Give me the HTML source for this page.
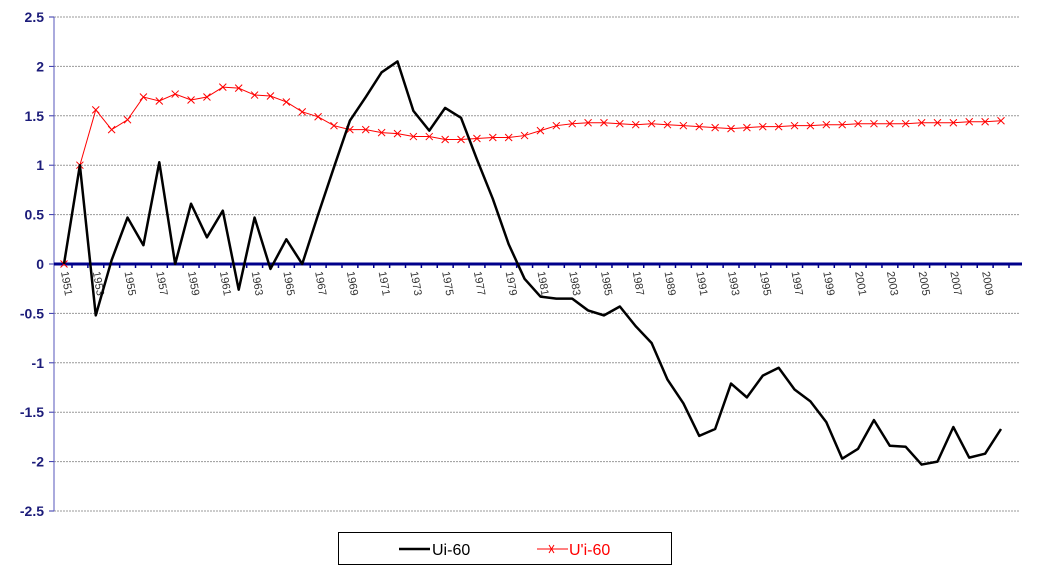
<!DOCTYPE html>
<html><head><meta charset="utf-8"><style>
body{margin:0;background:#fff;}
svg{display:block;font-family:"Liberation Sans",Arial,sans-serif;}
</style></head><body>
<svg id="chart" width="1038" height="576" viewBox="0 0 1038 576" xmlns="http://www.w3.org/2000/svg">
<g id="grid"></g>
<g id="yaxis"></g>
<g id="xaxis"></g>
<g id="series"></g>
<g>
<rect x="338.5" y="532.5" width="333" height="32" fill="#fff" stroke="#000" stroke-width="1"/>
<g>
<line x1="399" y1="549" x2="430" y2="549" stroke="#000" stroke-width="2.5"/>
<text x="432" y="555" font-size="16" fill="#000">Ui-60</text></g>
<g>
<line x1="537" y1="549" x2="568" y2="549" stroke="#f00" stroke-width="1"/>
<path d="M549,545 l5,8 M554,545 l-5,8" stroke="#f00" stroke-width="1"/>
<text x="569" y="555" font-size="16" fill="#f00">U'i-60</text></g>
</g>
</svg>
<script>
const years = [];
for (let y = 1951; y <= 2010; y++) years.push(y);
const uiValues = [0,1.0,-0.52,0.04,0.47,0.19,1.03,0.0,0.61,0.27,0.54,-0.26,0.47,-0.05,0.25,0.0,0.5,0.98,1.45,1.69,1.94,2.05,1.55,1.35,1.58,1.48,1.06,0.66,0.2,-0.15,-0.33,-0.35,-0.35,-0.47,-0.52,-0.43,-0.63,-0.8,-1.17,-1.41,-1.74,-1.67,-1.21,-1.35,-1.13,-1.05,-1.27,-1.39,-1.6,-1.97,-1.87,-1.58,-1.84,-1.85,-2.03,-2.0,-1.65,-1.96,-1.92,-1.67];
const uiPrimeValues = [0,1.0,1.56,1.36,1.46,1.69,1.65,1.72,1.66,1.69,1.79,1.78,1.71,1.70,1.64,1.54,1.49,1.40,1.36,1.36,1.33,1.32,1.29,1.29,1.26,1.26,1.27,1.28,1.28,1.30,1.35,1.40,1.42,1.43,1.43,1.42,1.41,1.42,1.41,1.40,1.39,1.38,1.37,1.38,1.39,1.39,1.40,1.40,1.41,1.41,1.42,1.42,1.42,1.42,1.43,1.43,1.43,1.44,1.44,1.45];
const yTicks = [2.5,2,1.5,1,0.5,0,-0.5,-1,-1.5,-2,-2.5];
const yTickLabels = ["2.5","2","1.5","1","0.5","0","-0.5","-1","-1.5","-2","-2.5"];

const NS = "http://www.w3.org/2000/svg";
const X0 = 64, X1 = 1001, PL = 54, PR = 1020;
const yScale = v => 264 - v * 98.8;
const xScale = i => X0 + i * (X1 - X0) / (years.length - 1);
function mk(tag, attrs, parent) {
  const e = document.createElementNS(NS, tag);
  for (const k in attrs) e.setAttribute(k, attrs[k]);
  parent.appendChild(e); return e;
}
const grid = document.getElementById('grid');
const yaxis = document.getElementById('yaxis');
const xaxis = document.getElementById('xaxis');
const series = document.getElementById('series');

yTicks.forEach((v, i) => {
  const y = yScale(v);
  if (v !== 0) {
    const g = mk('line', {x1: PL, x2: PR, y1: y, y2: y, stroke: '#999', 'stroke-width': 1, 'stroke-dasharray': '2,1'}, grid);
    
    
  }
  mk('line', {x1: PL - 5, x2: PL, y1: y, y2: y, stroke: '#3333aa', 'stroke-width': 1}, yaxis);
  const t = mk('text', {x: 44, y: y + 5, 'text-anchor': 'end', 'font-size': 14, 'font-weight': 'bold', fill: '#1c1c7a'}, yaxis);
  t.textContent = yTickLabels[i];
  
  
});
const ya = mk('line', {x1: PL, x2: PL, y1: yScale(2.5), y2: yScale(-2.5), stroke: '#5555bb', 'stroke-width': 1}, yaxis);



const za = mk('line', {x1: PL, x2: PR + 2, y1: yScale(0), y2: yScale(0), stroke: '#00008b', 'stroke-width': 3}, xaxis);


years.forEach((yr, i) => {
  const x = xScale(i) + 8;
  mk('line', {x1: x, x2: x, y1: yScale(0), y2: yScale(0) + 4, stroke: '#00008b', 'stroke-width': 1.5}, xaxis);
  if (yr % 2 === 1) {
    const t = mk('text', {x: 0, y: 0, 'font-size': 11, fill: '#333', transform: `translate(${xScale(i) - 3},${yScale(0) + 8}) rotate(80)`}, xaxis);
    t.textContent = yr;
    
    
  }
});

const redPts = uiPrimeValues.map((v, i) => `${xScale(i)},${yScale(v)}`).join(' ');
const rl = mk('polyline', {points: redPts, fill: 'none', stroke: '#f00', 'stroke-width': 1}, series);


uiPrimeValues.forEach((v, i) => {
  const x = xScale(i), y = yScale(v);
  const m = mk('path', {d: `M${x-3.5},${y-3.5}L${x+3.5},${y+3.5}M${x+3.5},${y-3.5}L${x-3.5},${y+3.5}`, stroke: '#f00', 'stroke-width': 1}, series);
  
  
});
const blackPts = uiValues.map((v, i) => `${xScale(i)},${yScale(v)}`).join(' ');
const bl = mk('polyline', {points: blackPts, fill: 'none', stroke: '#000', 'stroke-width': 2.5, 'stroke-linejoin': 'round'}, series);


</script>
</body></html>
